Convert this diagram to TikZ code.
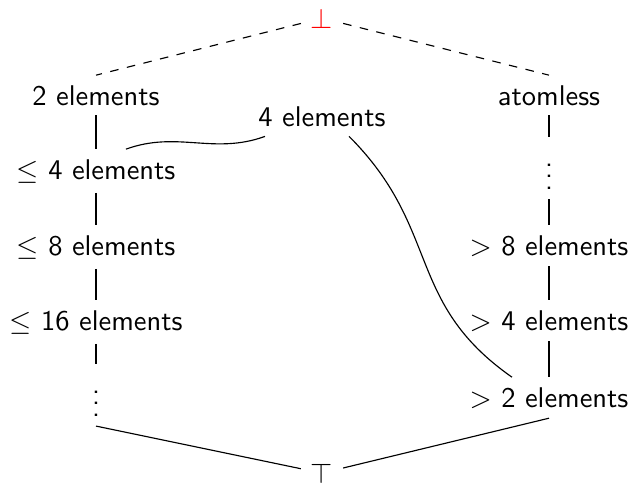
\documentclass[tikz,border=0pt]{standalone}
\usepackage{amsmath}
\usepackage{tikz}

\begin{document}
\begin{tikzpicture}[
  x=0.351pt,y=-0.351pt,
  font=\sffamily,
  elt/.style={anchor=base},
  ln/.style={line width=0.4pt},
  dl/.style={ln,dashed},
  crv/.style={ln,looseness=1}
]
\useasboundingbox (0,0) rectangle (632,482);

\node[elt,text=red] (bot) at (322,28) {$\bot$};
\node[elt] (two) at (96,105) {2 elements};
\node[elt] (atoml) at (549,105) {atomless};
\node[elt] (four) at (322,126) {4 elements};
\node[elt] (le4) at (96,179) {$\leq$ 4 elements};
\node[elt] (rdots) at (549,189) {$\vdots$};
\node[elt] (le8) at (96,255) {$\leq$ 8 elements};
\node[elt] (gt8) at (549,255) {$>$ 8 elements};
\node[elt] (le16) at (96,330) {$\leq$ 16 elements};
\node[elt] (gt4) at (549,330) {$>$ 4 elements};
\node[elt] (ldots) at (96,416) {$\vdots$};
\node[elt] (gt2) at (549,407) {$>$ 2 elements};
\node[elt] (top) at (322,483) {$\top$};

\draw[dl] (bot) -- (two.north);
\draw[dl] (bot) -- (atoml.north);

\draw[ln] (two) -- (le4);
\draw[ln] (le4) -- (le8);
\draw[ln] (le8) -- (le16);
\draw[ln] (le16) -- (ldots);
\draw[ln] (atoml) -- (rdots);
\draw[ln] (rdots) -- (gt8);
\draw[ln] (gt8) -- (gt4);
\draw[ln] (gt4) -- (gt2);

\draw[crv] ([xshift=10.5pt]le4.north) to[out=20,in=200] ([xshift=-20pt]four.south);
\draw[crv,looseness=1.15] ([xshift=9.5pt]four.south) to[out=-45,in=145] ([xshift=-13pt]gt2.north);

\draw[ln] (ldots.south) -- (top);
\draw[ln] (gt2.south) -- (top);
\end{tikzpicture}
\end{document}
